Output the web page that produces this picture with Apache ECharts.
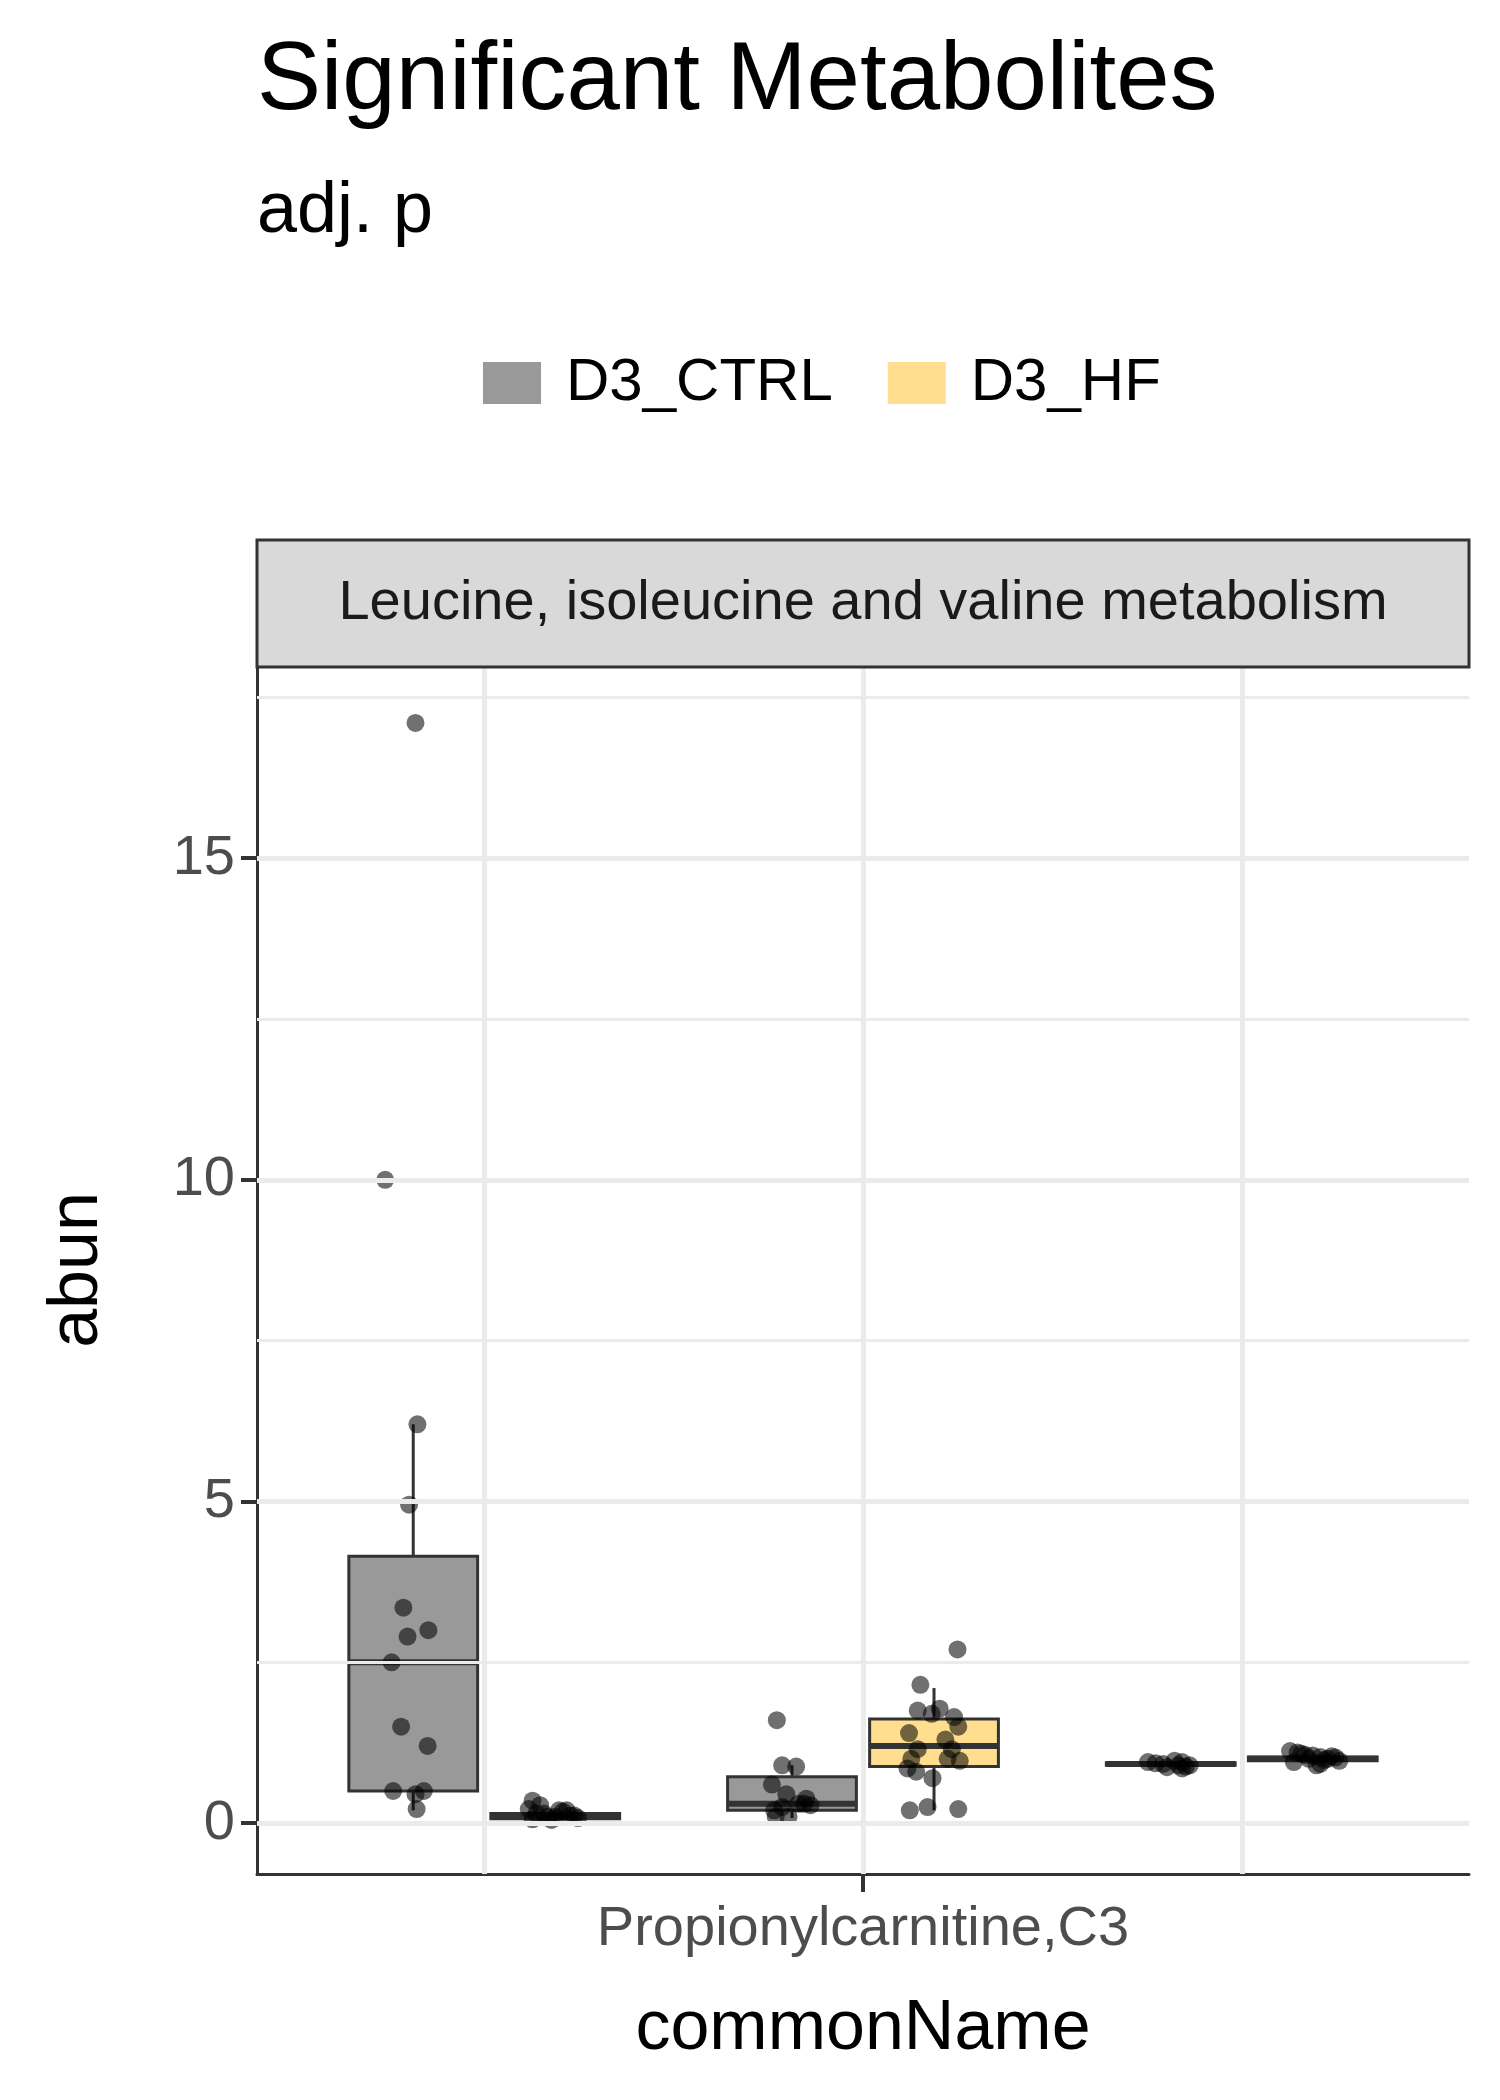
<!DOCTYPE html>
<html>
<head>
<meta charset="UTF-8">
<script src="https://cdn.jsdelivr.net/npm/echarts@6/dist/echarts.min.js"></script>
<style>
  * { margin: 0; padding: 0; }
  body { background: #fff; }
  #chart { width: 1500px; height: 2100px; }
</style>
</head>
<body>
<div id="chart"></div>
<script>
// categories and groups
const categories = ['Tiglylcarnitine,2-Methylbutyroylcarnitine', 'Propionylcarnitine,C3', 'PROPIONYLCARNITINE'];
const groups = ['D3_CTRL', 'D3_HF'];
const groupColors = ['#999999', '#FFDF8F'];
const dodge = 0.1875;

// box stats per category: [min, q1, median, q3, max]
const ctrlBox = [[0.2, 0.5, 2.5, 4.15, 6.2], [0.08, 0.2, 0.3, 0.72, 0.9], [0.87, 0.9, 0.92, 0.94, 0.97]];
const hfBox = [[0.03, 0.07, 0.11, 0.15, 0.2], [0.2, 0.88, 1.2, 1.62, 2.1], [0.92, 0.97, 1.0, 1.03, 1.08]];

// raw points and jitter offsets
const ctrlVals = [
  [17.1, 10.0, 6.2, 4.95, 3.35, 3.0, 2.9, 2.5, 1.5, 1.2, 0.5, 0.5, 0.45, 0.22],
  [1.6, 0.9, 0.88, 0.6, 0.45, 0.38, 0.3, 0.28, 0.25, 0.2, 0.1, 0.1, 0.3],
  [0.95, 0.92, 0.9, 0.88, 0.85, 0.93, 0.97, 0.9, 0.87, 0.95]
];
const ctrlJit = [
  [0.006, -0.074, 0.011, -0.011, -0.026, 0.04, -0.015, -0.057, -0.032, 0.038, -0.053, 0.028, 0.006, 0.009],
  [-0.04, -0.026, 0.011, -0.053, -0.015, 0.038, 0.017, 0.049, -0.026, -0.047, -0.043, -0.009, 0.032],
  [-0.06, -0.02, 0.02, 0.04, 0.03, -0.04, 0.01, 0.05, -0.01, 0.03]
];
const hfVals = [
  [0.35, 0.28, 0.22, 0.2, 0.18, 0.15, 0.12, 0.1, 0.1, 0.08, 0.06, 0.05, 0.12, 0.2, 0.15],
  [2.7, 2.15, 1.75, 1.78, 1.7, 1.65, 1.5, 1.4, 1.3, 1.15, 1.15, 1.0, 1.0, 0.97, 0.85, 0.8, 0.7, 0.25, 0.22, 0.2],
  [1.12, 1.08, 1.05, 1.0, 0.95, 0.92, 1.02, 1.06, 0.98, 1.04, 0.9, 1.1, 1.0, 0.97, 1.03]
];
const hfJit = [
  [-0.06, -0.04, -0.07, 0.03, 0.02, -0.05, 0.05, -0.02, 0.0, 0.06, -0.06, -0.01, 0.04, 0.01, -0.03],
  [0.062, -0.036, -0.043, 0.015, -0.006, 0.053, 0.064, -0.066, 0.03, -0.043, 0.047, -0.06, 0.036, 0.068, -0.07, -0.047, -0.004, -0.017, 0.064, -0.064],
  [-0.06, -0.03, 0.0, 0.04, -0.05, 0.02, 0.06, -0.02, 0.03, 0.05, 0.01, -0.04, -0.01, 0.07, 0.02]
];

const yTicks = [0, 5, 10, 15];
const yGrid = [0, 2.5, 5, 7.5, 10, 12.5, 15, 17.5];
const xTicks = [1, 2, 3];

function boxData(stats, off) {
  return stats.map((s, i) => [i + 1 + off].concat(s));
}
function pointData(vals, jit, off) {
  const out = [];
  vals.forEach((arr, i) => arr.forEach((v, j) => out.push([i + 1 + off + jit[i][j], v])));
  return out;
}

function renderBox(params, api) {
  const x = api.value(0);
  const hw = 0.17;
  const pMin = api.coord([x, api.value(1)]);
  const pQ1 = api.coord([x, api.value(2)]);
  const pMed = api.coord([x, api.value(3)]);
  const pQ3 = api.coord([x, api.value(4)]);
  const pMax = api.coord([x, api.value(5)]);
  const l = api.coord([x - hw, 0])[0];
  const r = api.coord([x + hw, 0])[0];
  const fill = api.visual('color');
  const ls = { stroke: '#333333', lineWidth: 3 };
  return {
    type: 'group',
    children: [
      { type: 'line', shape: { x1: pMin[0], y1: pMin[1], x2: pQ1[0], y2: pQ1[1] }, style: ls },
      { type: 'line', shape: { x1: pQ3[0], y1: pQ3[1], x2: pMax[0], y2: pMax[1] }, style: ls },
      { type: 'rect', shape: { x: l, y: pQ3[1], width: r - l, height: pQ1[1] - pQ3[1] },
        style: { fill: fill, stroke: '#333333', lineWidth: 3 } },
      { type: 'line', shape: { x1: l, y1: pMed[1], x2: r, y2: pMed[1] }, style: { stroke: '#333333', lineWidth: 6 } }
    ]
  };
}

const chart = echarts.init(document.getElementById('chart'));
const font = 'Liberation Sans, Arial, sans-serif';

const option = {
  backgroundColor: '#ffffff',
  animation: false,
  title: {
    text: 'Significant Metabolites',
    subtext: 'adj. p',
    left: 252, top: 30,
    itemGap: 45,
    textStyle: { fontFamily: font, fontSize: 96, fontWeight: 'normal', color: '#000' },
    subtextStyle: { fontFamily: font, fontSize: 72, color: '#000' }
  },
  legend: {
    data: groups,
    left: 478, top: 348,
    itemWidth: 58, itemHeight: 42,
    itemGap: 55,
    icon: 'rect',
    textStyle: { fontFamily: font, fontSize: 60, color: '#000', padding: [0, 0, 0, 20] }
  },
  grid: { left: 257, right: 31, top: 667, bottom: 226, containLabel: false },
  graphic: [
    { type: 'rect', shape: { x: 257, y: 540, width: 1212, height: 127 },
      style: { fill: '#d9d9d9', stroke: '#333333', lineWidth: 3 }, z: 10 },
    { type: 'text', x: 863, y: 604, style: { text: 'Leucine, isoleucine and valine metabolism',
      fill: '#1a1a1a', font: '56px ' + font, align: 'center', verticalAlign: 'middle' }, z: 11 },
    { type: 'text', x: 78, y: 1270, rotation: Math.PI / 2, style: { text: 'abun',
      fill: '#000', font: '70px ' + font, align: 'center', verticalAlign: 'middle' } },
    { type: 'text', x: 863, y: 2030, style: { text: 'commonName',
      fill: '#000', font: '70px ' + font, align: 'center', verticalAlign: 'middle' } }
  ],
  xAxis: {
    type: 'value', min: 0.4, max: 3.6,
    splitLine: { show: false },
    axisLine: { show: true, onZero: false, lineStyle: { color: '#333', width: 3 } },
    axisTick: { show: true, customValues: xTicks, length: 18, lineStyle: { color: '#333', width: 4 } },
    axisLabel: { customValues: xTicks, margin: 28, fontFamily: font, fontSize: 56, color: '#4d4d4d',
      hideOverlap: false, formatter: v => categories[Math.round(v) - 1] || '' }
  },
  yAxis: {
    type: 'value', min: -0.79, max: 17.97,
    splitLine: { show: false },
    axisLine: { show: true, onZero: false, lineStyle: { color: '#333', width: 3 } },
    axisTick: { show: true, customValues: yTicks, length: 16, lineStyle: { color: '#333', width: 4 } },
    axisLabel: { customValues: yTicks, margin: 22, fontFamily: font, fontSize: 56, color: '#4d4d4d' }
  },
  series: [
    {
      name: 'grid', type: 'line', data: [], silent: true,
      markLine: {
        symbol: 'none', silent: true, label: { show: false }, animation: false,
        data: yGrid.map(v => ({ yAxis: v, lineStyle: { color: '#ebebeb', width: v % 5 === 0 ? 5 : 3, type: 'solid' } }))
          .concat(xTicks.map(v => ({ xAxis: v, lineStyle: { color: '#ebebeb', width: 5, type: 'solid' } })))
      },
      z: 0
    },
    {
      name: groups[0], type: 'custom', renderItem: renderBox,
      itemStyle: { color: groupColors[0] }, data: boxData(ctrlBox, -dodge), z: 2
    },
    {
      name: groups[1], type: 'custom', renderItem: renderBox,
      itemStyle: { color: groupColors[1] }, data: boxData(hfBox, dodge), z: 2
    },
    {
      name: 'ctrlPts', type: 'scatter', symbolSize: 18, z: 3,
      itemStyle: { color: 'rgba(0,0,0,0.7)' }, data: pointData(ctrlVals, ctrlJit, -dodge)
    },
    {
      name: 'hfPts', type: 'scatter', symbolSize: 18, z: 3,
      itemStyle: { color: 'rgba(0,0,0,0.7)' }, data: pointData(hfVals, hfJit, dodge)
    }
  ]
};
chart.setOption(option);
</script>
</body>
</html>
